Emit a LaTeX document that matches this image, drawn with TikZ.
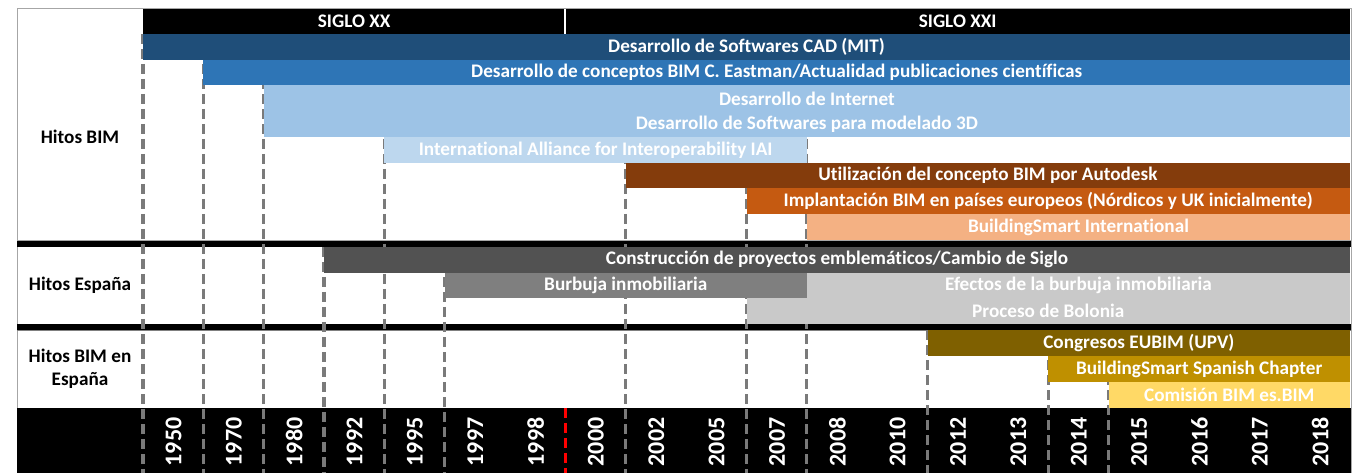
\documentclass[tikz,border=0pt]{standalone}
\usepackage{fontspec}
\setmainfont{Carlito}[Ligatures={NoCommon}]
\definecolor{cA}{HTML}{1F4E79}
\definecolor{cB}{HTML}{2E75B6}
\definecolor{cC}{HTML}{9DC3E6}
\definecolor{cD}{HTML}{BDD7EE}
\definecolor{cE}{HTML}{843C0C}
\definecolor{cF}{HTML}{C55A11}
\definecolor{cG}{HTML}{F4B183}
\definecolor{cH}{HTML}{525252}
\definecolor{cI}{HTML}{7F7F7F}
\definecolor{cJ}{HTML}{C9C9C9}
\definecolor{cK}{HTML}{7F6000}
\definecolor{cL}{HTML}{BF9000}
\definecolor{cM}{HTML}{FFD966}
\definecolor{gridgray}{HTML}{7A7A7A}
\definecolor{bordergray}{HTML}{A6A6A6}
\begin{document}
\begin{tikzpicture}[x=1pt,y=-1pt,
  bar/.style={anchor=north west, inner sep=0pt, outer sep=0pt, text=white,
    font=\bfseries\fontsize{19.2}{22}\selectfont, minimum height=25.75pt},
  lbl/.style={inner sep=0pt, align=center, text=black,
    font=\bfseries\fontsize{19.2}{22.5}\selectfont},
  siglo/.style={inner sep=0pt, text=white, font=\bfseries\fontsize{19.2}{22}\selectfont},
  year/.style={inner sep=0pt, rotate=90, text=white, font=\bfseries\fontsize{24}{26}\selectfont},
  gridline/.style={draw=gridgray, line width=3.2pt, dash pattern=on 10pt off 5pt},
  redline/.style={draw=red, line width=3.2pt, dash pattern=on 10pt off 5pt},
]
\useasboundingbox (0,0) rectangle (1353,473);
\fill[white] (0,0) rectangle (1353,473);
% outer borders
\draw[bordergray, line width=1pt] (17,473) -- (17,9) -- (1351,9) -- (1351,473);
% separators and footer
\fill[black] (17,240) rectangle (1351,247);
\fill[black] (17,324) rectangle (1351,330);
\draw[bordergray, line width=0.8pt] (17,240) -- (1351,240);
\draw[gray, line width=0.8pt] (17,330) -- (1351,330);
\fill[black] (17,408) rectangle (1351,473);
% header
\node[bar, fill=black, minimum width=1207pt, minimum height=25pt] (hdr) at (143,9) {};
\draw[white, line width=2pt] (565.45,9) -- (565.45,34);
\node[siglo] (s20) at (354.2,21.5) {SIGLO XX};
\node[siglo] (s21) at (957.7,21.5) {SIGLO XXI};
% dashed grid
\foreach \i in {0,1,2,4,8,10,11}
  \draw[gridline] ({143+60.35*\i},34) -- ({143+60.35*\i},473);
\foreach \i in {3,5}
  \draw[gridline] ({143+60.35*\i},247) -- ({143+60.35*\i},473);
\foreach \i in {13,15,16}
  \draw[gridline] ({143+60.35*\i},330) -- ({143+60.35*\i},473);
\draw[redline] (565.45,408) -- (565.45,473);
% Hitos BIM bars
\node[bar, fill=cA, minimum width=1207pt] (b1) at (143,34) {Desarrollo de Softwares CAD (MIT)};
\node[bar, fill=cB, minimum width=1146.65pt] (b2) at (203.35,59.75) {Desarrollo de conceptos BIM C. Eastman/Actualidad publicaciones científicas};
\node[bar, fill=cC, minimum width=1086.3pt] (b3) at (263.7,85.5) {Desarrollo de Internet};
\node[bar, fill=cC, minimum width=1086.3pt] (b4) at (263.7,111.25) {Desarrollo de Softwares para modelado 3D};
\node[bar, fill=cD, minimum width=422.45pt] (b5) at (384.4,137) {International Alliance for Interoperability IAI};
\node[bar, fill=cE, minimum width=724.2pt] (b6) at (625.8,162.75) {Utilización del concepto BIM por Autodesk};
\node[bar, fill=cF, minimum width=603.5pt] (b7) at (746.5,188.5) {Implantación BIM en países europeos (Nórdicos y UK inicialmente)};
\node[bar, fill=cG, minimum width=543.15pt] (b8) at (806.85,214.25) {BuildingSmart International};
% Hitos Espana bars
\node[bar, fill=cH, minimum width=1025.95pt, minimum height=25.67pt] (b9) at (324.05,247) {Construcción de proyectos emblemáticos/Cambio de Siglo};
\node[bar, fill=cI, minimum width=362.1pt, minimum height=25.67pt] (b10) at (444.75,272.67) {Burbuja inmobiliaria};
\node[bar, fill=cJ, minimum width=543.15pt, minimum height=25.67pt] (b11) at (806.85,272.67) {Efectos de la burbuja inmobiliaria};
\node[bar, fill=cJ, minimum width=603.5pt, minimum height=25.67pt] (b12) at (746.5,298.33) {Proceso de Bolonia};
% Hitos BIM en Espana bars
\node[bar, fill=cK, minimum width=422.45pt, minimum height=26pt] (b13) at (927.55,330) {Congresos EUBIM (UPV)};
\node[bar, fill=cL, minimum width=301.75pt, minimum height=26pt] (b14) at (1048.25,356) {BuildingSmart Spanish Chapter};
\node[bar, fill=cM, minimum width=241.4pt, minimum height=26pt] (b15) at (1108.6,382) {Comisión BIM es.BIM};
% row labels
\node[lbl] (l1) at (80,137) {Hitos BIM};
\node[lbl] (l2) at (80,285.5) {Hitos España};
\node[lbl] (l3) at (80,369) {Hitos BIM en\\España};
% years
\foreach \yr [count=\k from 0] in {1950,1970,1980,1992,1995,1997,1998,2000,2002,2005,2007,2008,2010,2012,2013,2014,2015,2016,2017,2018}
  \node[year] (y\yr) at ({143+60.35*\k+30.5},442) {\yr};
\end{tikzpicture}
\end{document}
